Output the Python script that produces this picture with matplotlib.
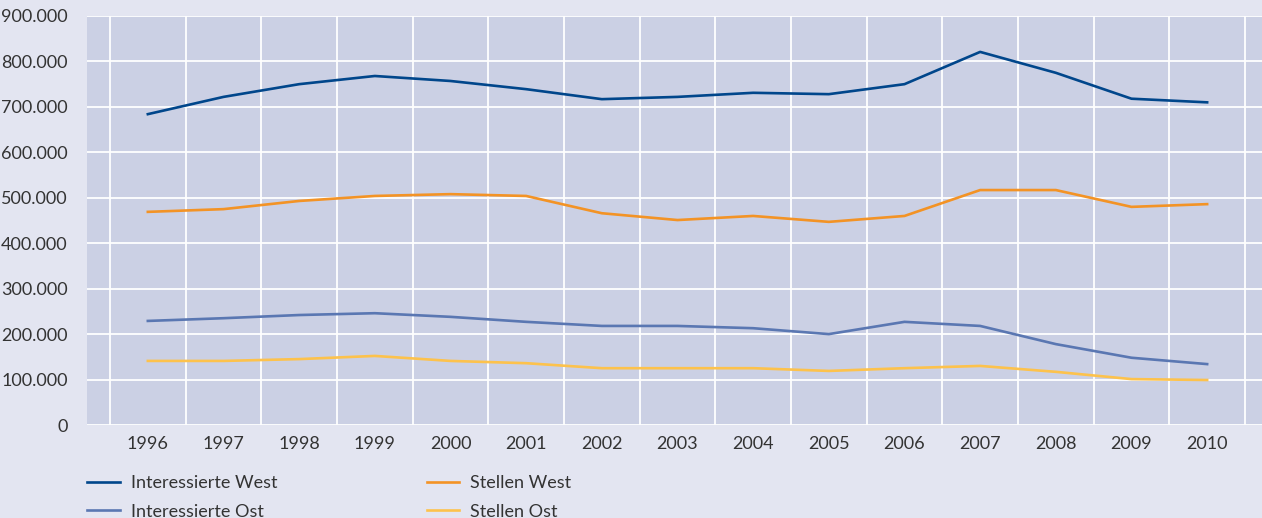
import numpy as np
import matplotlib.pyplot as plt
from matplotlib.ticker import FuncFormatter, FixedLocator

years = list(range(1996, 2011))
interessierte_west = [684, 722, 750, 768, 757, 739, 717, 722, 731, 728, 750, 821, 775, 718, 710]
stellen_west = [469, 475, 493, 504, 508, 504, 466, 451, 460, 447, 460, 517, 517, 480, 486]
interessierte_ost = [229, 235, 242, 246, 238, 227, 218, 218, 213, 200, 227, 218, 178, 148, 134]
stellen_ost = [141, 141, 145, 152, 141, 136, 125, 125, 125, 119, 125, 130, 117, 101, 99]
labels = ["Interessierte West", "Interessierte Ost", "Stellen West", "Stellen Ost"]

plt.rcParams['font.family'] = ['Lato', 'DejaVu Sans']
txt = '#333333'

fig = plt.figure(figsize=(12.62, 5.18), dpi=100, facecolor='#e3e5f1')
ax = fig.add_axes([87/1262, 93/518, 1 - 87/1262, 409/518])
ax.set_facecolor('#cbd0e4')

series = [
    (interessierte_west, '#00468b'),
    (interessierte_ost, '#5a77b2'),
    (stellen_west, '#f39325'),
    (stellen_ost, '#fdc24c'),
]
handles = []
for vals, col in series:
    h, = ax.plot(years, np.array(vals) * 1000, color=col, lw=1.9, zorder=3)
    handles.append(h)

ax.set_xlim(1995.196, 2010.725)
ax.set_ylim(0, 900000)
ax.set_xticks(years)
ax.xaxis.set_minor_locator(FixedLocator(np.arange(1995.5, 2011, 1)))
ax.set_yticks(np.arange(0, 900001, 100000))
ax.yaxis.set_major_formatter(FuncFormatter(lambda v, p: f"{int(v):,}".replace(",", ".")))
ax.grid(False)
ax.yaxis.grid(True, which='major', color='white', lw=1.3)
ax.xaxis.grid(True, which='minor', color='white', lw=1.3)
ax.set_axisbelow(True)
for s in ax.spines.values():
    s.set_visible(False)
ax.tick_params(which='both', length=0, labelsize=13, colors=txt)
ax.tick_params(axis='y', pad=14)
ax.tick_params(axis='x', pad=8)

ax.legend(handles, labels, ncol=2, frameon=False, loc='upper left',
          bbox_to_anchor=(0.0, -0.122), fontsize=13, labelcolor=txt,
          handlelength=1.8, handletextpad=0.62, columnspacing=8.27,
          labelspacing=0.7, borderaxespad=0, borderpad=0)

fig.savefig('out.png', dpi=100, facecolor=fig.get_facecolor())
